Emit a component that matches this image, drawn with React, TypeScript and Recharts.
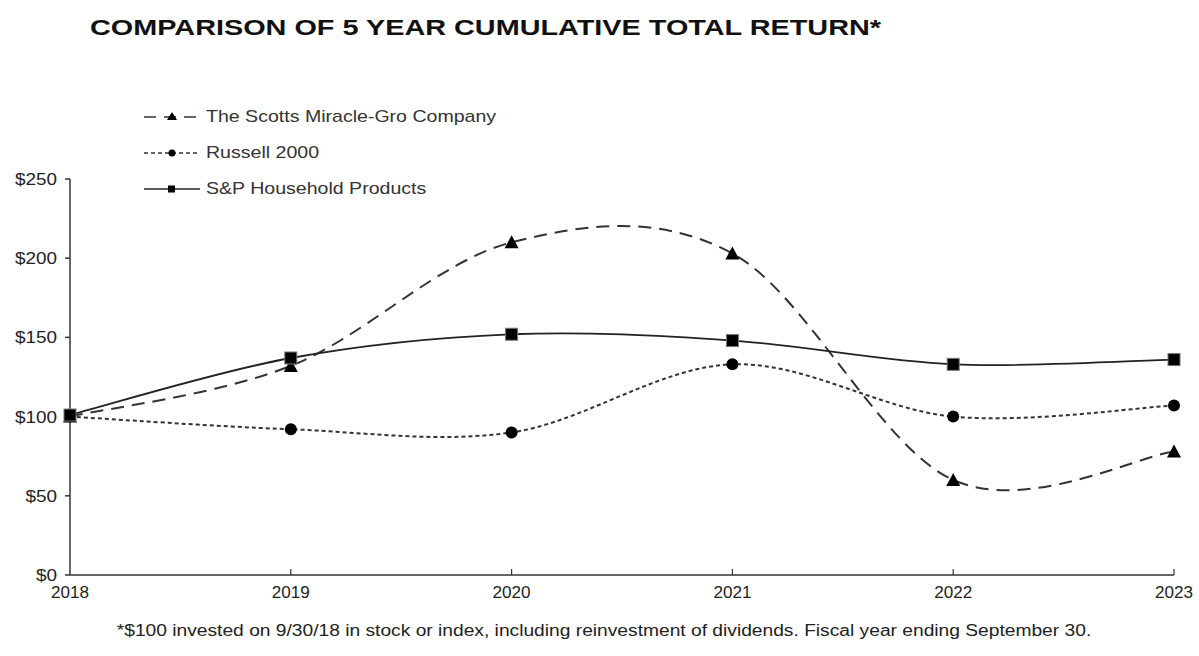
import React from "react";
import { LineChart, Line, XAxis, YAxis } from "recharts";

const years = [2018, 2019, 2020, 2021, 2022, 2023];
const scotts = [100, 132, 210, 203, 60, 78];
const russell = [100, 92, 90, 133, 100, 107];
const spHousehold = [101, 137, 152, 148, 133, 136];
const yTicks = [0, 50, 100, 150, 200, 250];

const seriesNames = ["The Scotts Miracle-Gro Company", "Russell 2000", "S&P Household Products"];

const data = years.map((y, i) => ({
  year: y,
  scotts: scotts[i],
  russell: russell[i],
  sp: spHousehold[i],
}));

const FONT = "'Liberation Sans', Arial, sans-serif";

// Excel-like smoothed line (Catmull-Rom via cubic Bezier)
function excelCurve(context: any) {
  let pts: number[][] = [];
  return {
    areaStart() {},
    areaEnd() {},
    lineStart() {
      pts = [];
    },
    point(x: number, y: number) {
      pts.push([+x, +y]);
    },
    lineEnd() {
      const n = pts.length;
      if (!n) return;
      context.moveTo(pts[0][0], pts[0][1]);
      for (let i = 0; i < n - 1; i++) {
        const p0 = pts[i - 1] || pts[i];
        const p1 = pts[i];
        const p2 = pts[i + 1];
        const p3 = pts[i + 2] || pts[i + 1];
        const c1x = p1[0] + (p2[0] - p0[0]) / 6;
        const c1y = p1[1] + (p2[1] - p0[1]) / 6;
        const c2x = p2[0] - (p3[0] - p1[0]) / 6;
        const c2y = p2[1] - (p3[1] - p1[1]) / 6;
        context.bezierCurveTo(c1x, c1y, c2x, c2y, p2[0], p2[1]);
      }
    },
  };
}

const TriangleDot = (props: any) => {
  const { cx, cy, index } = props;
  if (cx == null || cy == null) return null;
  const s = 6;
  return (
    <path
      key={"t" + index}
      d={`M${cx},${cy - s - 1} L${cx + s + 1},${cy + s} L${cx - s - 1},${cy + s} Z`}
      fill="#000"
    />
  );
};

const CircleDot = (props: any) => {
  const { cx, cy, index } = props;
  if (cx == null || cy == null) return null;
  return <circle key={"c" + index} cx={cx} cy={cy} r={6} fill="#000" />;
};

const SquareDot = (props: any) => {
  const { cx, cy, index } = props;
  if (cx == null || cy == null) return null;
  return <rect key={"s" + index} x={cx - 6} y={cy - 6} width={12} height={12} fill="#000" stroke="#777" strokeWidth={1} />;
};

const XTick = (props: any) => {
  const { x, y, payload } = props;
  return (
    <g>
      {payload.value !== 2018 && <line x1={x} y1={y} x2={x} y2={y - 6} stroke="#333" strokeWidth={1.2} />}
      <text
        x={x}
        y={y + 23}
        textAnchor="middle"
        fontFamily={FONT}
        fontSize={16}
        fill="#222"
        textLength={38}
        lengthAdjust="spacingAndGlyphs"
      >
        {payload.value}
      </text>
    </g>
  );
};

const YTick = (props: any) => {
  const { x, y, payload } = props;
  const label = "$" + payload.value;
  return (
    <text
      x={x}
      y={y + 6}
      textAnchor="end"
      fontFamily={FONT}
      fontSize={16}
      fill="#222"
      textLength={label.length * 10.5}
      lengthAdjust="spacingAndGlyphs"
    >
      {label}
    </text>
  );
};

const LegendRow = ({ kind, label, top }: { kind: string; label: string; top: number }) => {
  let sample: React.ReactNode = null;
  if (kind === "tri") {
    sample = (
      <g>
        <line x1={2} y1={9} x2={58} y2={9} stroke="#333" strokeWidth={1.6} strokeDasharray="12 8" />
        <path d="M30,4 L35,12 L25,12 Z" fill="#000" />
      </g>
    );
  } else if (kind === "circ") {
    sample = (
      <g>
        <line x1={2} y1={9} x2={58} y2={9} stroke="#333" strokeWidth={1.6} strokeDasharray="4 3" />
        <circle cx={30} cy={9} r={3.5} fill="#000" />
      </g>
    );
  } else {
    sample = (
      <g>
        <line x1={2} y1={9} x2={58} y2={9} stroke="#222" strokeWidth={1.6} />
        <rect x={26} y={5.5} width={7} height={7} fill="#000" />
      </g>
    );
  }
  return (
    <div style={{ position: "absolute", left: 142, top, display: "flex", alignItems: "center", height: 18 }}>
      <svg width={60} height={18}>{sample}</svg>
      <span
        style={{
          fontFamily: FONT,
          fontSize: 17,
          color: "#333",
          marginLeft: 4,
          whiteSpace: "nowrap",
          display: "inline-block",
          transform: "scaleX(1.15)",
          transformOrigin: "left center",
        }}
      >
        {label}
      </span>
    </div>
  );
};

export default function App() {
  return (
    <div style={{ position: "absolute", left: 0, top: 0, width: 1199, height: 656, background: "#fff", overflow: "hidden" }}>
      <div
        style={{
          position: "absolute",
          left: 90,
          top: 15,
          fontFamily: FONT,
          fontWeight: "bold",
          fontSize: 22,
          color: "#111",
          whiteSpace: "nowrap",
          transform: "scaleX(1.31)",
          transformOrigin: "left center",
        }}
      >
        COMPARISON OF 5 YEAR CUMULATIVE TOTAL RETURN*
      </div>
      <div style={{ position: "absolute", left: 0, top: 0 }}>
        <LineChart width={1199} height={656} data={data} margin={{ top: 179, right: 25, bottom: 51, left: 10 }}>
          <XAxis
            dataKey="year"
            type="number"
            domain={[2018, 2023]}
            ticks={years}
            interval={0}
            height={30}
            stroke="#333"
            strokeWidth={1.5}
            tickLine={false}
            tickSize={0}
            tickMargin={0}
            tick={<XTick />}
          />
          <YAxis
            type="number"
            domain={[0, 250]}
            ticks={yTicks}
            interval={0}
            width={60}
            stroke="#333"
            strokeWidth={1.5}
            tickSize={5}
            tickMargin={8}
            tick={<YTick />}
          />
          <Line
            dataKey="scotts"
            name={seriesNames[0]}
            type={excelCurve as any}
            stroke="#333"
            strokeWidth={2}
            strokeDasharray="13 8"
            dot={<TriangleDot />}
            isAnimationActive={false}
          />
          <Line
            dataKey="russell"
            name={seriesNames[1]}
            type={excelCurve as any}
            stroke="#333"
            strokeWidth={2}
            strokeDasharray="4 3"
            dot={<CircleDot />}
            isAnimationActive={false}
          />
          <Line
            dataKey="sp"
            name={seriesNames[2]}
            type={excelCurve as any}
            stroke="#222"
            strokeWidth={1.8}
            dot={<SquareDot />}
            isAnimationActive={false}
          />
        </LineChart>
      </div>
      <LegendRow kind="tri" label={seriesNames[0]} top={108} />
      <LegendRow kind="circ" label={seriesNames[1]} top={144} />
      <LegendRow kind="sq" label={seriesNames[2]} top={180} />
      <div
        style={{
          position: "absolute",
          left: 604,
          top: 622,
          fontFamily: FONT,
          fontSize: 16,
          color: "#222",
          whiteSpace: "nowrap",
          transform: "translateX(-50%) scaleX(1.2)",
          transformOrigin: "center center",
        }}
      >
        *$100 invested on 9/30/18 in stock or index, including reinvestment of dividends. Fiscal year ending September 30.
      </div>
    </div>
  );
}
